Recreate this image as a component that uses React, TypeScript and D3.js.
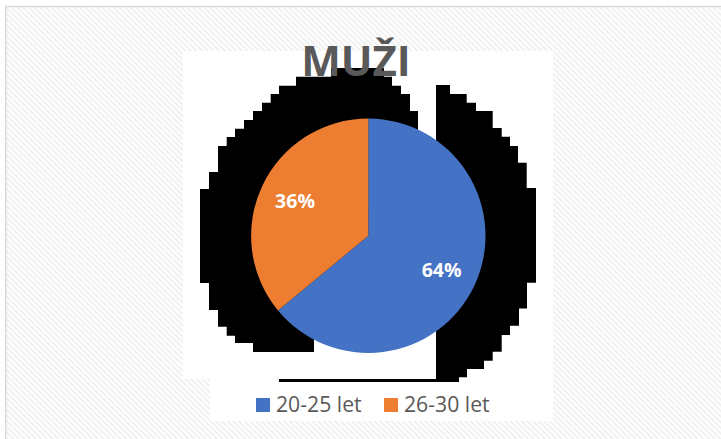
import React from "react";
import * as d3 from "d3";

const categories = ["20-25 let", "26-30 let"];
const values = [64, 36];
const colors = ["#4472C4", "#ED7D31"];
const title = "MUŽI";

// decorative stepped artefact shapes seen in the reference (not data)
const leftBlob: [number, number][] = [
  [200, 283], [200, 189], [209, 189], [209, 172], [218, 172], [218, 146], [226.7, 146], [226.7, 137],
  [235, 137], [235, 128.7], [244, 128.7], [244, 120], [253, 120], [253, 111], [262, 111], [262, 102.7],
  [270.7, 102.7], [270.7, 94], [279, 94], [279, 85.7], [296, 85.7], [296, 76.7], [331, 76.7], [331, 68],
  [384, 68], [384, 76.7], [392, 76.7], [392, 85.7], [401, 85.7], [401, 94], [410, 94], [410, 111],
  [418, 111], [418, 300], [314, 300], [314, 352], [253, 352], [253, 343], [235, 343], [235, 335.7],
  [226.7, 335.7], [226.7, 326.7], [218, 326.7], [218, 310], [209, 310], [209, 283],
];
const rightBlob: [number, number][] = [
  [436, 85], [450, 85], [450, 94], [466.7, 94], [466.7, 102.7], [476, 102.7], [476, 111], [492.7, 111],
  [492.7, 128], [501.7, 128], [501.7, 136.7], [510, 136.7], [510, 146], [518, 146], [518, 162.7],
  [526.7, 162.7], [526.7, 188], [536, 188], [536, 282.7], [527, 282.7], [527, 308.5], [519, 308.5],
  [519, 325.7], [510, 325.7], [510, 335], [501.7, 335], [501.7, 351.7], [492.7, 351.7], [492.7, 360.7],
  [484, 360.7], [484, 369], [467, 369], [467, 377.3], [459, 377.3], [459, 382], [436, 382],
];

const FONT = "'Open Sans', 'DejaVu Sans', sans-serif";

export default function App() {
  const cx = 368.3;
  const cy = 235.8;
  const r = 117.2;
  const pie = d3.pie<number>().sort(null).value((d) => d);
  const arcs = pie(values);
  const arc = d3.arc<d3.PieArcDatum<number>>().innerRadius(0).outerRadius(r);
  const labelArc = d3.arc<d3.PieArcDatum<number>>().innerRadius(81).outerRadius(81);
  const total = d3.sum(values);
  const line = d3.line();

  const legendX = [256, 384];
  return (
    <svg width={721} height={439} style={{ position: "absolute", left: 0, top: 0 }}>
      <defs>
        <pattern id="hatch" patternUnits="userSpaceOnUse" width={4} height={4} patternTransform="rotate(45)">
          <rect x={0} y={0} width={4} height={4} fill="#ffffff" />
          <rect x={0} y={0} width={4} height={1.8} fill="#efefef" />
        </pattern>
      </defs>
      <rect x={0} y={0} width={721} height={439} fill="#ffffff" />
      <rect x={5.75} y={6.5} width={800} height={800} fill="url(#hatch)" stroke="#d9d9d9" strokeWidth={1.5} />
      {/* plot area white */}
      <rect x={183} y={51} width={370} height={328} fill="#ffffff" />
      {/* legend white */}
      <rect x={210} y={379} width={343} height={42} fill="#ffffff" />
      {/* artefacts */}
      <path d={line(leftBlob) + "Z"} fill="#000" />
      <path d={line(rightBlob) + "Z"} fill="#000" />
      <rect x={279} y={379} width={180} height={3} fill="#000" />
      {/* pie */}
      <g transform={`translate(${cx},${cy})`}>
        {arcs.map((a, i) => (
          <path key={i} d={arc(a) || ""} fill={colors[i]} />
        ))}
        {arcs.map((a, i) => {
          const [lx, ly] = labelArc.centroid(a);
          return (
            <text key={"l" + i} x={lx} y={ly} dy="0.36em" textAnchor="middle" fill="#ffffff"
              fontFamily={FONT} fontWeight={700} fontSize={19.5}>
              {Math.round((a.data / total) * 100) + "%"}
            </text>
          );
        })}
      </g>
      {/* title */}
      <text x={356} y={76} textAnchor="middle" fill="#595959" fontFamily={FONT} fontWeight={700} fontSize={42}>
        {title}
      </text>
      {/* legend */}
      {categories.map((c, i) => (
        <g key={c}>
          <rect x={legendX[i]} y={398} width={14} height={14} fill={colors[i]} />
          <text x={legendX[i] + 20} y={411.7} fill="#595959" fontFamily={FONT} fontSize={21.2}>
            {c}
          </text>
        </g>
      ))}
    </svg>
  );
}
